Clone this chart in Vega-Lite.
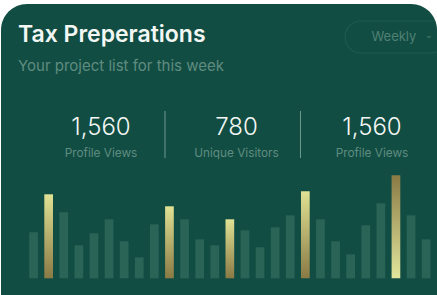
{
  "$schema": "https://vega.github.io/schema/vega-lite/v6.json",
  "width": 437,
  "height": 295,
  "autosize": {"type": "fit", "contains": "padding"},
  "padding": {"left": 1, "top": 4, "right": 0, "bottom": -30},
  "background": "#ffffff",
  "config": {
    "view": {"fill": "#124d43", "stroke": null, "cornerRadius": 26},
    "font": "Inter"
  },
  "title": {
    "text": "Tax Preperations",
    "subtitle": "Your project list for this week",
    "anchor": "start",
    "frame": "group",
    "orient": "top",
    "offset": -70,
    "dx": 17,
    "font": "Inter",
    "fontSize": 23,
    "fontWeight": 600,
    "color": "#f2f7f4",
    "subtitleFont": "Inter",
    "subtitleFontSize": 15,
    "subtitleColor": "#5f8c80",
    "subtitlePadding": 12
  },
  "datasets": {
    "bars": [
      {"idx": 0, "v": 46, "kind": "base"},
      {"idx": 1, "v": 84, "kind": "goldA"},
      {"idx": 2, "v": 66, "kind": "base"},
      {"idx": 3, "v": 33, "kind": "base"},
      {"idx": 4, "v": 45, "kind": "base"},
      {"idx": 5, "v": 59, "kind": "base"},
      {"idx": 6, "v": 37, "kind": "base"},
      {"idx": 7, "v": 21, "kind": "base"},
      {"idx": 8, "v": 54, "kind": "base"},
      {"idx": 9, "v": 72, "kind": "goldA"},
      {"idx": 10, "v": 59, "kind": "base"},
      {"idx": 11, "v": 39, "kind": "base"},
      {"idx": 12, "v": 33, "kind": "base"},
      {"idx": 13, "v": 59, "kind": "goldA"},
      {"idx": 14, "v": 48, "kind": "base"},
      {"idx": 15, "v": 31, "kind": "base"},
      {"idx": 16, "v": 51, "kind": "base"},
      {"idx": 17, "v": 63, "kind": "base"},
      {"idx": 18, "v": 87, "kind": "goldA"},
      {"idx": 19, "v": 59, "kind": "base"},
      {"idx": 20, "v": 37, "kind": "base"},
      {"idx": 21, "v": 24, "kind": "base"},
      {"idx": 22, "v": 53, "kind": "base"},
      {"idx": 23, "v": 75, "kind": "base"},
      {"idx": 24, "v": 103, "kind": "goldB"},
      {"idx": 25, "v": 63, "kind": "base"},
      {"idx": 26, "v": 39, "kind": "base"}
    ],
    "stats": [
      {"col": 0, "value": "1,560", "label": "Profile Views"},
      {"col": 1, "value": "780", "label": "Unique Visitors"},
      {"col": 2, "value": "1,560", "label": "Profile Views"}
    ],
    "control": [
      {"label": "Weekly"}
    ]
  },
  "resolve": {"scale": {"x": "independent"}},
  "layer": [
    {
      "data": {"name": "bars"},
      "transform": [{"filter": "datum.kind == 'base'"}],
      "mark": {"type": "bar", "width": 8.7, "color": "#2a6457"},
      "encoding": {
        "x": {"field": "idx", "type": "quantitative", "scale": {"domain": [-1.825, 26.388], "nice": false, "zero": false}, "axis": null},
        "y": {"field": "v", "type": "quantitative", "scale": {"domain": [-46.7, 274.3], "nice": false, "zero": false}, "axis": null},
        "y2": {"datum": 0}
      }
    },
    {
      "data": {"name": "bars"},
      "transform": [{"filter": "datum.kind == 'goldA'"}],
      "mark": {"type": "bar", "width": 8.7, "color": {"gradient": "linear", "x1": 0, "y1": 0, "x2": 0, "y2": 1, "stops": [{"offset": 0, "color": "#e0e294"}, {"offset": 1, "color": "#8a7a45"}]}},
      "encoding": {
        "x": {"field": "idx", "type": "quantitative", "scale": {"domain": [-1.825, 26.388], "nice": false, "zero": false}, "axis": null},
        "y": {"field": "v", "type": "quantitative", "axis": null},
        "y2": {"datum": 0}
      }
    },
    {
      "data": {"name": "bars"},
      "transform": [{"filter": "datum.kind == 'goldB'"}],
      "mark": {"type": "bar", "width": 8.7, "color": {"gradient": "linear", "x1": 0, "y1": 0, "x2": 0, "y2": 1, "stops": [{"offset": 0, "color": "#8a7a45"}, {"offset": 1, "color": "#e2e69c"}]}},
      "encoding": {
        "x": {"field": "idx", "type": "quantitative", "scale": {"domain": [-1.825, 26.388], "nice": false, "zero": false}, "axis": null},
        "y": {"field": "v", "type": "quantitative", "axis": null},
        "y2": {"datum": 0}
      }
    },
    {
      "data": {"name": "stats"},
      "mark": {"type": "text", "align": "center", "baseline": "alphabetic", "font": "Inter", "fontSize": 24, "fontWeight": 300, "color": "#f2f7f4"},
      "encoding": {
        "x": {"field": "col", "type": "quantitative", "scale": {"domain": [-0.738, 2.48], "nice": false, "zero": false}, "axis": null},
        "y": {"datum": 143.6, "type": "quantitative"},
        "text": {"field": "value"}
      }
    },
    {
      "data": {"name": "stats"},
      "mark": {"type": "text", "align": "center", "baseline": "alphabetic", "font": "Inter", "fontSize": 11.8, "color": "#5f8c80"},
      "encoding": {
        "x": {"field": "col", "type": "quantitative", "scale": {"domain": [-0.738, 2.48], "nice": false, "zero": false}, "axis": null},
        "y": {"datum": 121, "type": "quantitative"},
        "text": {"field": "label"}
      }
    },
    {
      "data": {"name": "stats"},
      "transform": [{"filter": "datum.col < 2"}],
      "mark": {"type": "rule", "xOffset": 64, "color": "#6f9a8f", "strokeWidth": 1},
      "encoding": {
        "x": {"field": "col", "type": "quantitative", "scale": {"domain": [-0.738, 2.48], "nice": false, "zero": false}, "axis": null},
        "y": {"datum": 167.3, "type": "quantitative"},
        "y2": {"datum": 120.3}
      }
    },
    {
      "data": {"name": "control"},
      "mark": {"type": "rect", "clip": true, "cornerRadius": 16, "fill": "transparent", "stroke": "#1f5a4e", "strokeWidth": 1.2},
      "encoding": {
        "x": {"datum": 1.801, "type": "quantitative", "scale": {"domain": [-0.738, 2.48], "nice": false, "zero": false}, "axis": null},
        "x2": {"datum": 2.554},
        "y": {"datum": 257.3, "type": "quantitative"},
        "y2": {"datum": 225.3}
      }
    },
    {
      "data": {"name": "control"},
      "mark": {"type": "text", "align": "center", "baseline": "middle", "font": "Inter", "fontSize": 13, "color": "#4f8073"},
      "encoding": {
        "x": {"datum": 2.162, "type": "quantitative", "scale": {"domain": [-0.738, 2.48], "nice": false, "zero": false}, "axis": null},
        "y": {"datum": 241.8, "type": "quantitative"},
        "text": {"field": "label"}
      }
    },
    {
      "data": {"name": "control"},
      "mark": {"type": "text", "clip": true, "align": "center", "baseline": "middle", "font": "DejaVu Sans", "fontSize": 9, "color": "#4f8073", "text": "⌄"},
      "encoding": {
        "x": {"datum": 2.42, "type": "quantitative", "scale": {"domain": [-0.738, 2.48], "nice": false, "zero": false}, "axis": null},
        "y": {"datum": 243, "type": "quantitative"}
      }
    }
  ]
}
